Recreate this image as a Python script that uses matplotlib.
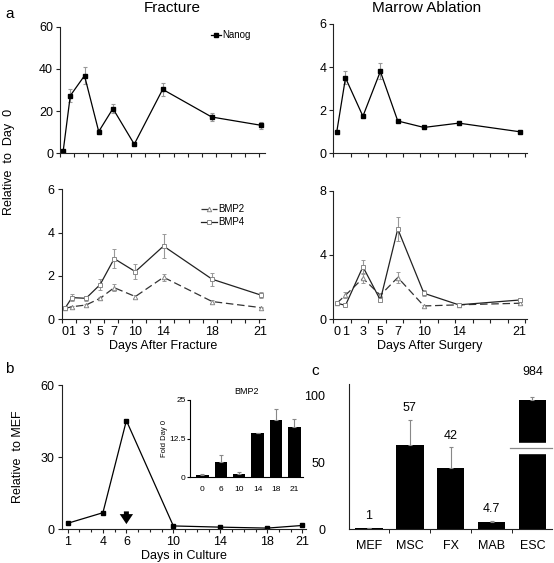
import numpy as np
import matplotlib
matplotlib.use("Agg")
import matplotlib.pyplot as plt
from matplotlib.ticker import FixedLocator, NullFormatter, MultipleLocator

plt.rcParams['font.family'] = ['Liberation Sans', 'DejaVu Sans']
plt.rcParams['axes.linewidth'] = 0.8

# ---------------- data ----------------
frac_days = [0, 1, 3, 5, 7, 10, 14, 18, 21]
frac_nanog = [1.1, 27.3, 36.8, 10.3, 21.2, 4.3, 30.3, 17.2, 13.3]
frac_nanog_err = [0.3, 3.0, 4.0, 1.0, 2.0, 0.5, 3.0, 1.7, 1.7]
frac_bmp4 = [0.5, 1.0, 0.97, 1.6, 2.8, 2.2, 3.38, 1.85, 1.12]
frac_bmp4_err = [0.05, 0.15, 0.12, 0.25, 0.45, 0.35, 0.55, 0.3, 0.15]
frac_bmp2 = [0.5, 0.58, 0.66, 0.97, 1.46, 1.05, 1.94, 0.82, 0.54]
frac_bmp2_err = [0.04, 0.05, 0.06, 0.08, 0.15, 0.06, 0.17, 0.06, 0.04]

marrow_days = [0, 1, 3, 5, 7, 10, 14, 21]
marrow_nanog = [1.0, 3.5, 1.72, 3.8, 1.5, 1.2, 1.4, 1.0]
marrow_nanog_err = [0.03, 0.3, 0.1, 0.37, 0.05, 0.05, 0.08, 0.03]
marrow_bmp4 = [1.0, 0.87, 3.27, 1.2, 5.62, 1.62, 0.9, 1.2]
marrow_bmp4_err = [0.08, 0.05, 0.45, 0.1, 0.72, 0.2, 0.04, 0.08]
marrow_bmp2 = [1.0, 1.5, 2.55, 1.5, 2.6, 0.83, 0.9, 1.0]
marrow_bmp2_err = [0.08, 0.2, 0.3, 0.1, 0.35, 0.05, 0.04, 0.05]

culture_days = [1, 4, 6, 10, 14, 18, 21]
culture_vals = [2.5, 6.9, 45.2, 1.4, 0.9, 0.5, 1.6]
arrow_day = 6

inset_days = ['0', '6', '10', '14', '18', '21']
inset_vals = [0.7, 5.0, 1.2, 14.2, 18.4, 16.4]
inset_err = [0.25, 2.1, 0.4, 0.15, 3.6, 2.3]

cell_types = ['MEF', 'MSC', 'FX', 'MAB', 'ESC']
cell_bar_heights = [1.0, 63.0, 46.0, 5.2, 97.0]
cell_err = [0.0, 19.0, 15.5, 1.0, 2.0]
cell_labels = ['1', '57', '42', '4.7', '984']
esc_break = (57.5, 64.5)

# ---------------- figure ----------------
W, H = 554, 563
fig = plt.figure(figsize=(W / 100, H / 100), dpi=100)


def ax_px(x0, y0, x1, y1):
    return fig.add_axes([x0 / W, 1 - y1 / H, (x1 - x0) / W, (y1 - y0) / H])


def style(ax):
    for s in ['top', 'right']:
        ax.spines[s].set_visible(False)
    for s in ['left', 'bottom']:
        ax.spines[s].set_color('#222222')
    ax.tick_params(which='both', direction='out', colors='#222222', labelcolor='black')
    ax.tick_params(which='major', length=3, width=0.8, labelsize=9, pad=2)
    ax.tick_params(which='minor', length=3, width=0.8)


# nonlinear day scale of the Fracture panels
K1, K2 = 6.9 / 4, 6.9 / 3
A = 14 + 4 * K1


def fwd(d):
    d = np.asarray(d, float)
    return np.where(d <= 14, d, np.where(d <= 18, 14 + (d - 14) * K1, A + (d - 18) * K2))


def inv(u):
    u = np.asarray(u, float)
    return np.where(u <= 14, u, np.where(u <= A, 14 + (u - 14) / K1, 18 + (u - A) / K2))


def frac_x(ax, labels):
    ax.set_xscale('function', functions=(fwd, inv))
    ax.set_xlim(float(inv(-0.45)), float(inv(28.4)))
    ax.xaxis.set_major_locator(FixedLocator(frac_days))
    ax.xaxis.set_minor_locator(FixedLocator(inv(-0.45 + 2 * np.arange(15))))
    ax.xaxis.set_minor_formatter(NullFormatter())
    ax.tick_params(axis='x', which='major', length=0, pad=5)
    if not labels:
        ax.set_xticklabels([])


def marrow_x(ax, labels):
    ax.set_xlim(-0.4, 21.8)
    ax.xaxis.set_major_locator(FixedLocator(marrow_days))
    ax.xaxis.set_minor_locator(FixedLocator(-0.4 + 2 * np.arange(12)))
    ax.xaxis.set_minor_formatter(NullFormatter())
    ax.tick_params(axis='x', which='major', length=0, pad=5)
    if not labels:
        ax.set_xticklabels([])


ekw = dict(ecolor='#999999', elinewidth=0.8, capsize=1.5, capthick=0.8)

# ---- a: Fracture Nanog
ax1 = ax_px(60, 26.7, 265, 153.3)
style(ax1)
eb_n = ax1.errorbar(frac_days, frac_nanog, yerr=frac_nanog_err, color='black', lw=0.9,
                    marker='s', ms=3, mfc='black', mec='black', **ekw)
ax1.set_ylim(0, 60)
ax1.set_yticks([0, 20, 40, 60])
frac_x(ax1, False)
fig.text(172 / W, 1 - 8 / H, 'Fracture', fontsize=11, ha='center', va='center')
ax1.legend(handles=[eb_n[0]], labels=['Nanog'], loc='upper left', bbox_to_anchor=(211 / W, 1 - 30 / H),
           bbox_transform=fig.transFigure, frameon=False, fontsize=7, handlelength=1.0,
           handletextpad=0.2, borderpad=0, borderaxespad=0)

# ---- a: Marrow Nanog
ax2 = ax_px(333.3, 24, 526.7, 153.3)
style(ax2)
ax2.errorbar(marrow_days, marrow_nanog, yerr=marrow_nanog_err, color='black', lw=0.9,
             marker='s', ms=3, mfc='black', mec='black', **ekw)
ax2.set_ylim(0, 6)
ax2.set_yticks([0, 2, 4, 6])
marrow_x(ax2, False)
fig.text(427 / W, 1 - 8 / H, 'Marrow Ablation', fontsize=11, ha='center', va='center')

# ---- a: Fracture BMP
ax3 = ax_px(61.7, 189.3, 265, 319.3)
style(ax3)
eb2 = ax3.errorbar(frac_days, frac_bmp2, yerr=frac_bmp2_err, color='#333333', lw=0.9, ls=(0, (6, 3)),
                   marker='^', ms=3.2, mfc='white', mec='#888888', mew=0.7, **ekw)
eb4 = ax3.errorbar(frac_days, frac_bmp4, yerr=frac_bmp4_err, color='#222222', lw=0.9,
                   marker='s', ms=3.2, mfc='white', mec='#888888', mew=0.7, **ekw)
ax3.set_ylim(0, 6)
ax3.set_yticks([0, 2, 4, 6])
frac_x(ax3, True)
ax3.set_xlabel('Days After Fracture', fontsize=9, labelpad=1)
ax3.legend(handles=[eb2[0], eb4[0]], labels=['BMP2', 'BMP4'], loc='upper left',
           bbox_to_anchor=(201 / W, 1 - 204 / H), bbox_transform=fig.transFigure,
           frameon=False, fontsize=7, handlelength=1.6, handletextpad=0.2, borderpad=0,
           borderaxespad=0, labelspacing=0.3)

# ---- a: Marrow BMP
ax4 = ax_px(333.3, 190.7, 526.7, 319.3)
style(ax4)
ax4.errorbar(marrow_days, marrow_bmp2, yerr=marrow_bmp2_err, color='#333333', lw=0.9, ls=(0, (6, 3)),
             marker='^', ms=3.2, mfc='white', mec='#888888', mew=0.7, **ekw)
ax4.errorbar(marrow_days, marrow_bmp4, yerr=marrow_bmp4_err, color='#222222', lw=0.9,
             marker='s', ms=3.2, mfc='white', mec='#888888', mew=0.7, **ekw)
ax4.set_ylim(0, 8)
ax4.set_yticks([0, 4, 8])
marrow_x(ax4, True)
ax4.set_xlabel('Days After Surgery', fontsize=9, labelpad=1)

fig.text(9 / W, 1 - 162 / H, 'Relative  to  Day  0', rotation=90, fontsize=9, ha='center', va='center')
fig.text(5 / W, 1 - 14 / H, 'a', fontsize=11, ha='left', va='center')

# ---- b
ax5 = ax_px(61.7, 385, 306, 529.3)
style(ax5)
ax5.plot(culture_days, culture_vals, color='black', lw=0.9, marker='s', ms=3)
ax5.set_xlim(0.49, 21.3)
ax5.set_ylim(0, 60)
ax5.set_yticks([0, 30, 60])
ax5.set_xticks(culture_days)
ax5.xaxis.set_minor_locator(MultipleLocator(1))
ax5.tick_params(axis='x', which='minor', length=2)
ax5.set_xlabel('Days in Culture', fontsize=9, labelpad=1)
ax5.set_ylabel('Relative  to MEF', fontsize=9, labelpad=12)
ax5.annotate('', xy=(arrow_day, 1.0), xytext=(arrow_day, 8.6),
             arrowprops=dict(arrowstyle='simple,head_length=0.6,head_width=0.8,tail_width=0.3',
                             color='black', lw=0, mutation_scale=12))
fig.text(5 / W, 1 - 369 / H, 'b', fontsize=11, ha='left', va='center')

# ---- inset
ax6 = ax_px(190, 400, 303, 477.3)
for s in ['top', 'right']:
    ax6.spines[s].set_visible(False)
xi = np.arange(len(inset_days))
ax6.bar(xi, inset_vals, width=0.67, color='black')
ax6.errorbar(xi, inset_vals, yerr=[np.zeros(len(xi)), inset_err], fmt='none',
             ecolor='#888888', elinewidth=0.8, capsize=1.5, capthick=0.8)
ax6.set_xlim(-0.68, 5.47)
ax6.set_ylim(0, 25)
ax6.set_yticks([0, 12.5, 25])
ax6.set_yticklabels(['0', '12.5', '25'])
ax6.set_xticks(xi)
ax6.set_xticklabels(inset_days)
ax6.tick_params(axis='x', length=0, labelsize=6, pad=6)
ax6.tick_params(axis='y', length=2, labelsize=6, pad=1)
ax6.set_ylabel('Fold Day 0', fontsize=5.5, labelpad=1)
ax6.set_title('BMP2', fontsize=6.5, pad=4)

# ---- c
ax7 = ax_px(349, 384, 552, 529.3)
for s in ['top', 'right']:
    ax7.spines[s].set_visible(False)
ax7.spines['left'].set_color('#222222')
ax7.spines['bottom'].set_color('#222222')
xc = np.arange(len(cell_types))
ax7.bar(xc, cell_bar_heights, width=0.67, color='black')
ax7.errorbar(xc, cell_bar_heights, yerr=[np.zeros(len(xc)), cell_err], fmt='none',
             ecolor='#888888', elinewidth=0.8, capsize=1.5, capthick=0.8)
ax7.set_xlim(-0.49, 4.48)
ax7.set_ylim(0, 109)
ax7.set_yticks([0, 50, 100])
ax7.set_xticks(xc)
ax7.set_xticklabels(cell_types)
ax7.xaxis.set_minor_locator(FixedLocator(xc[:-1] + 0.5))
ax7.tick_params(axis='x', which='major', length=0, labelsize=9, pad=8)
ax7.tick_params(axis='x', which='minor', length=3, direction='out')
ax7.tick_params(axis='y', length=0, labelsize=9, pad=17)
i_esc = len(cell_types) - 1
ax7.fill_between([i_esc - 0.4, i_esc + 0.4], esc_break[0], esc_break[1], color='white', zorder=3)
ax7.plot([i_esc - 0.55, 4.48], [np.mean(esc_break)] * 2, color='#888888', lw=0.9, zorder=4,
         clip_on=False)
for x, h, e, lab in zip(xc, cell_bar_heights, cell_err, cell_labels):
    off = 14 if lab == '984' else 4
    ax7.annotate(lab, (x, h + e), xytext=(0, off), textcoords='offset points',
                 ha='center', va='bottom', fontsize=9, annotation_clip=False)
fig.text(315 / W, 1 - 371 / H, 'c', fontsize=11, ha='center', va='center')

fig.savefig('out.png', dpi=100)
